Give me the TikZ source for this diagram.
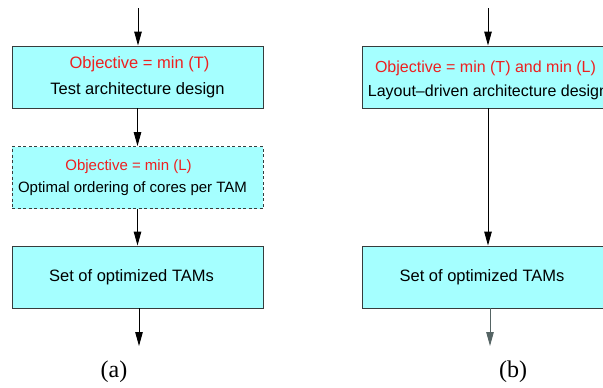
\documentclass[tikz,border=0pt]{standalone}
\usepackage{fontspec}
\setmainfont{Liberation Serif}
\setsansfont{Liberation Sans}
\usetikzlibrary{arrows.meta,positioning}
\definecolor{boxcyan}{RGB}{165,255,255}
\definecolor{objred}{RGB}{238,32,32}
\definecolor{edgegray}{RGB}{55,60,60}
\definecolor{slate}{RGB}{85,100,100}

\begin{document}
\begin{tikzpicture}[x=1pt,y=-1pt,
  stage/.style={draw=edgegray,line width=0.9pt,fill=boxcyan,minimum width=251pt,minimum height=62pt,align=center,inner sep=0pt,font=\sffamily\fontsize{16.5}{20}\selectfont},
  optstage/.style={stage,dash pattern=on 3pt off 2.5pt,font=\sffamily\fontsize{15}{18}\selectfont},
  flow/.style={-{Triangle[length=14pt,width=7.5pt]},line width=0.9pt},
  caption/.style={font=\fontsize{24}{28}\selectfont}]
\useasboundingbox (0,0) rectangle (603,388);
\clip (0,0) rectangle (603,388);

% (a) design first, then ordering of the cores
\coordinate (ain) at (138,8);
\coordinate (aout) at (139,346);
\node[stage] (adesign) at (137.5,77) {\textcolor{objred}{Objective = min (T)}\hspace*{-4pt}\\[6pt] Test architecture design};
\node[optstage] (aorder) at (137.5,177.5) {\textcolor{objred}{Objective = min (L)}\hspace*{18pt}\\[4pt] Optimal ordering of cores per TAM\hspace*{10pt}};
\node[stage] (aset) at (137.5,277) {Set of optimized TAMs\hspace*{12pt}};
\draw[flow] (ain) -- (ain |- adesign.north);
\draw[flow] (adesign) -- (aorder);
\draw[flow] (aorder) -- (aset);
\draw[flow] (aout |- aset.south) -- (aout);
\node[caption] (acap) at (114,372) {(a)};

% (b) one layout-driven step
\coordinate (bin) at (488,8);
\coordinate (bout) at (490,346);
\node[stage,font=\sffamily\fontsize{16}{19}\selectfont] (bdesign) at (488,77) {\rule{0pt}{18pt}\textcolor{objred}{Objective = min (T) and min (L)}\hspace*{5pt}\\[5pt] Layout--driven architecture design};
\node[stage] (bset) at (488,277) {Set of optimized TAMs\hspace*{12pt}};
\draw[flow] (bin) -- (bin |- bdesign.north);
\draw[flow] (bdesign) -- (bset);
\draw[flow,slate] (bout |- bset.south) -- (bout);
\node[caption] (bcap) at (513,372) {(b)};
\end{tikzpicture}
\end{document}
